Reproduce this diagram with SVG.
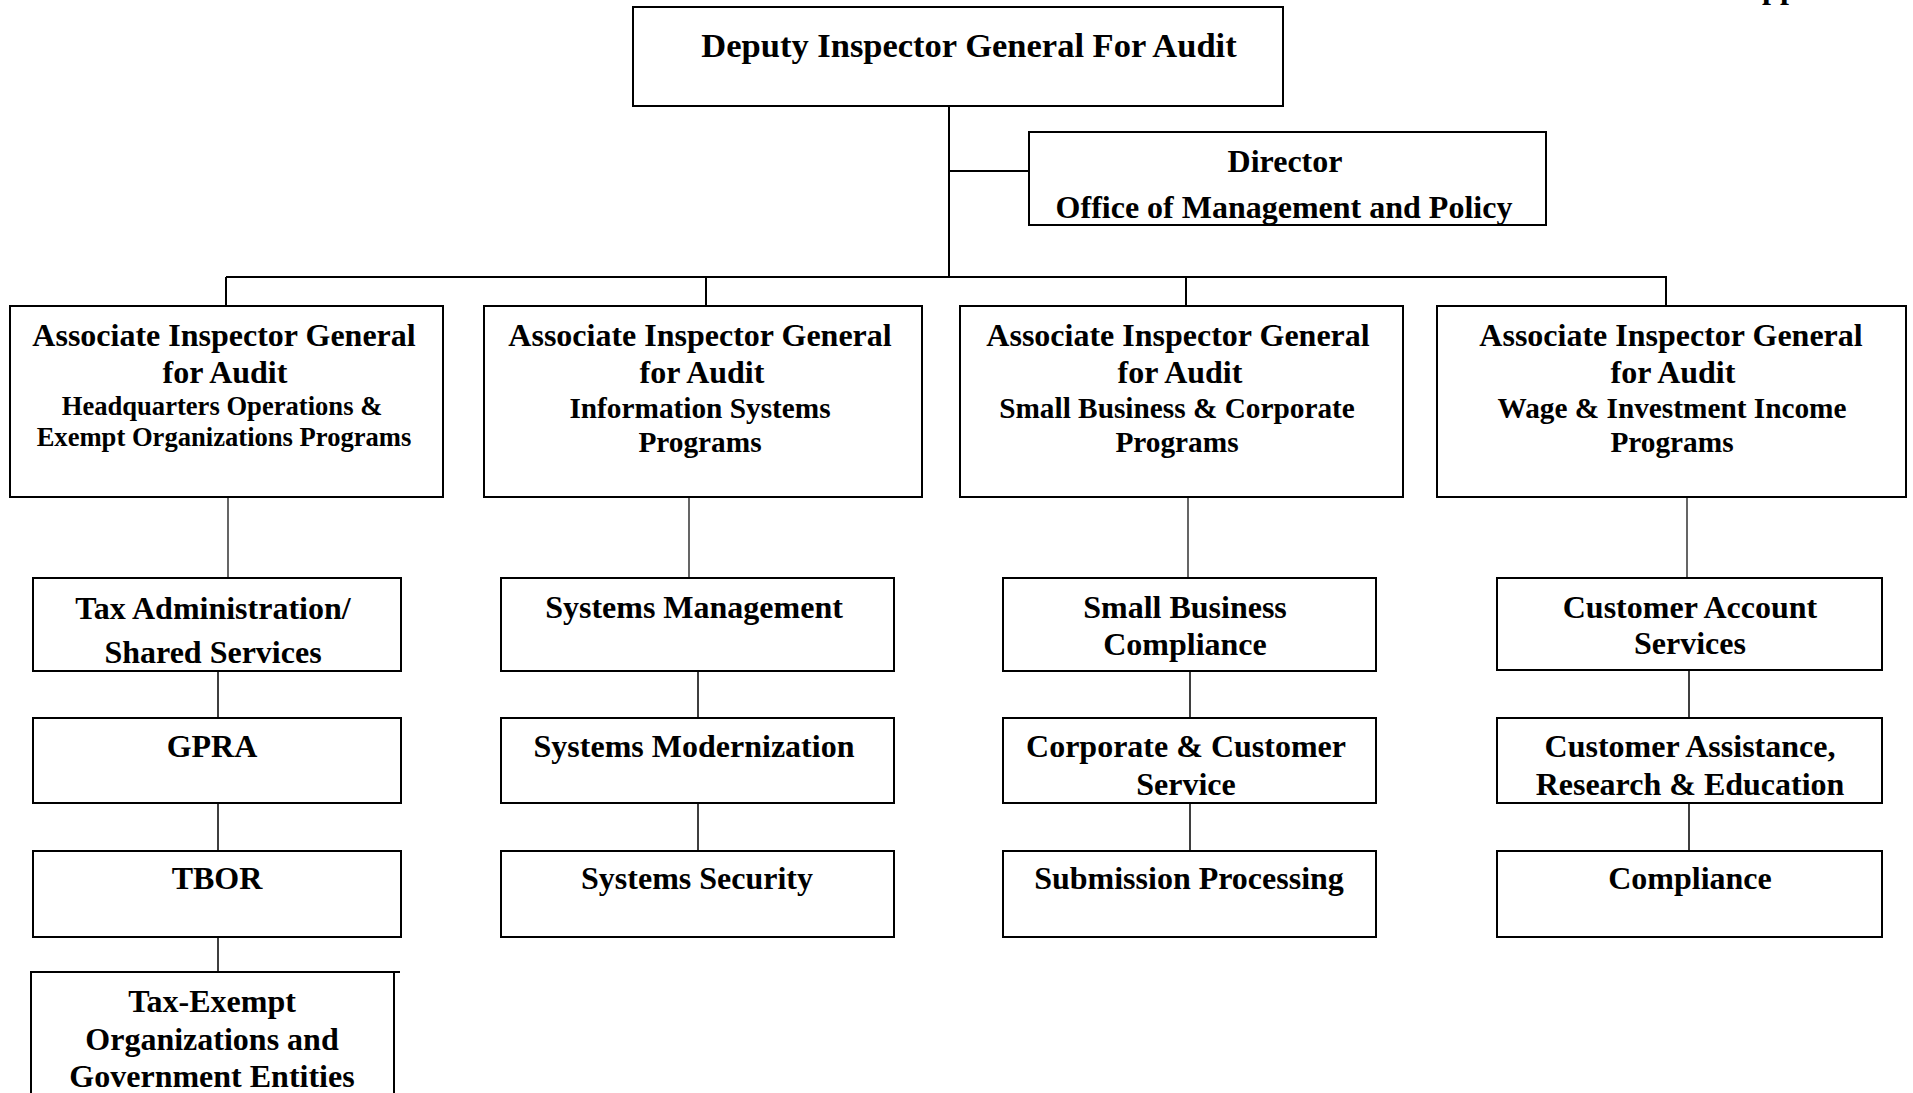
<svg xmlns="http://www.w3.org/2000/svg" width="1913" height="1093" viewBox="0 0 1913 1093">
<style>
  .box { fill: #fff; stroke: #000; stroke-width: 2; }
  .t { font-family: "Liberation Serif", "Times New Roman", serif; font-weight: bold; fill: #000; text-anchor: middle; }
  .f32 { font-size: 32px; }
  .f29 { font-size: 29.3px; }
  .f26 { font-size: 26.6px; }
  .main { stroke: #000; stroke-width: 2; fill: none; }
  .sub { stroke: #000; stroke-width: 1.5; fill: none; }
  .thin { stroke: #000; stroke-width: 1.2; fill: none; }
</style>
<rect width="1913" height="1093" fill="#fff"/>
<text class="t f32" x="1739" y="-2" style="text-anchor:start">Appendix</text>

<g id="connectors">
  <path class="main" d="M949 106 V277 M949 171 H1029 M226 277 H1667 M226 277 V306 M706 277 V306 M1186 277 V306 M1666 277 V306"/>
  <path class="thin" d="M228 498 V578 M689 498 V583 M1188 498 V583 M1687 498 V579"/>
  <path class="sub" d="M218 671 V718 M218 803 V851 M218 937 V972 M698 671 V718 M698 803 V851 M1190 671 V718 M1190 803 V851 M1689 671 V718 M1689 803 V851"/>
</g>

<g id="deputy">
  <rect class="box" x="633" y="7" width="650" height="99"/>
  <text class="t" style="font-size:34.5px" x="969" y="57">Deputy Inspector General For Audit</text>
</g>
<g id="director">
  <rect class="box" x="1029" y="132" width="517" height="93"/>
  <text class="t f32" x="1285" y="172">Director</text>
  <text class="t f32" x="1284" y="218">Office of Management and Policy</text>
</g>

<g id="aig-hq">
  <rect class="box" x="10" y="306" width="433" height="191"/>
  <text class="t f32" x="224" y="346">Associate Inspector General</text>
  <text class="t f32" x="225" y="383">for Audit</text>
  <text class="t f26" x="222" y="415">Headquarters Operations &amp;</text>
  <text class="t f26" x="224" y="446">Exempt Organizations Programs</text>
</g>
<g id="aig-is">
  <rect class="box" x="484" y="306" width="438" height="191"/>
  <text class="t f32" x="700" y="346">Associate Inspector General</text>
  <text class="t f32" x="702" y="383">for Audit</text>
  <text class="t f29" x="700" y="418">Information Systems</text>
  <text class="t f29" x="700" y="452">Programs</text>
</g>
<g id="aig-sb">
  <rect class="box" x="960" y="306" width="443" height="191"/>
  <text class="t f32" x="1178" y="346">Associate Inspector General</text>
  <text class="t f32" x="1180" y="383">for Audit</text>
  <text class="t f29" x="1177" y="418">Small Business &amp; Corporate</text>
  <text class="t f29" x="1177" y="452">Programs</text>
</g>
<g id="aig-wi">
  <rect class="box" x="1437" y="306" width="469" height="191"/>
  <text class="t f32" x="1671" y="346">Associate Inspector General</text>
  <text class="t f32" x="1673" y="383">for Audit</text>
  <text class="t f29" x="1672" y="418">Wage &amp; Investment Income</text>
  <text class="t f29" x="1672" y="452">Programs</text>
</g>

<g id="tax-admin">
  <rect class="box" x="33" y="578" width="368" height="93"/>
  <text class="t f32" x="213" y="619">Tax Administration/</text>
  <text class="t f32" x="213" y="663">Shared Services</text>
</g>
<g id="gpra">
  <rect class="box" x="33" y="718" width="368" height="85"/>
  <text class="t f32" x="212" y="757">GPRA</text>
</g>
<g id="tbor">
  <rect class="box" x="33" y="851" width="368" height="86"/>
  <text class="t f32" x="217" y="889">TBOR</text>
</g>
<g id="tax-exempt">
  <path class="box" d="M31 1095 V972 H400 M394 972 V1095"/>
  <text class="t f32" x="212" y="1012">Tax-Exempt</text>
  <text class="t f32" x="212" y="1050">Organizations and</text>
  <text class="t f32" x="212" y="1087">Government Entities</text>
</g>

<g id="sys-mgmt">
  <rect class="box" x="501" y="578" width="393" height="93"/>
  <text class="t f32" x="694" y="618">Systems Management</text>
</g>
<g id="sys-mod">
  <rect class="box" x="501" y="718" width="393" height="85"/>
  <text class="t f32" x="694" y="757">Systems Modernization</text>
</g>
<g id="sys-sec">
  <rect class="box" x="501" y="851" width="393" height="86"/>
  <text class="t f32" x="697" y="889">Systems Security</text>
</g>

<g id="sb-compliance">
  <rect class="box" x="1003" y="578" width="373" height="93"/>
  <text class="t f32" x="1185" y="618">Small Business</text>
  <text class="t f32" x="1185" y="655">Compliance</text>
</g>
<g id="corp-cust">
  <rect class="box" x="1003" y="718" width="373" height="85"/>
  <text class="t f32" x="1186" y="757">Corporate &amp; Customer</text>
  <text class="t f32" x="1186" y="795">Service</text>
</g>
<g id="submission">
  <rect class="box" x="1003" y="851" width="373" height="86"/>
  <text class="t f32" x="1189" y="889">Submission Processing</text>
</g>

<g id="cust-acct">
  <rect class="box" x="1497" y="578" width="385" height="92"/>
  <text class="t f32" x="1690" y="618">Customer Account</text>
  <text class="t f32" x="1690" y="654">Services</text>
</g>
<g id="cust-assist">
  <rect class="box" x="1497" y="718" width="385" height="85"/>
  <text class="t f32" x="1690" y="757">Customer Assistance,</text>
  <text class="t f32" x="1690" y="795">Research &amp; Education</text>
</g>
<g id="compliance">
  <rect class="box" x="1497" y="851" width="385" height="86"/>
  <text class="t f32" x="1690" y="889">Compliance</text>
</g>
</svg>
